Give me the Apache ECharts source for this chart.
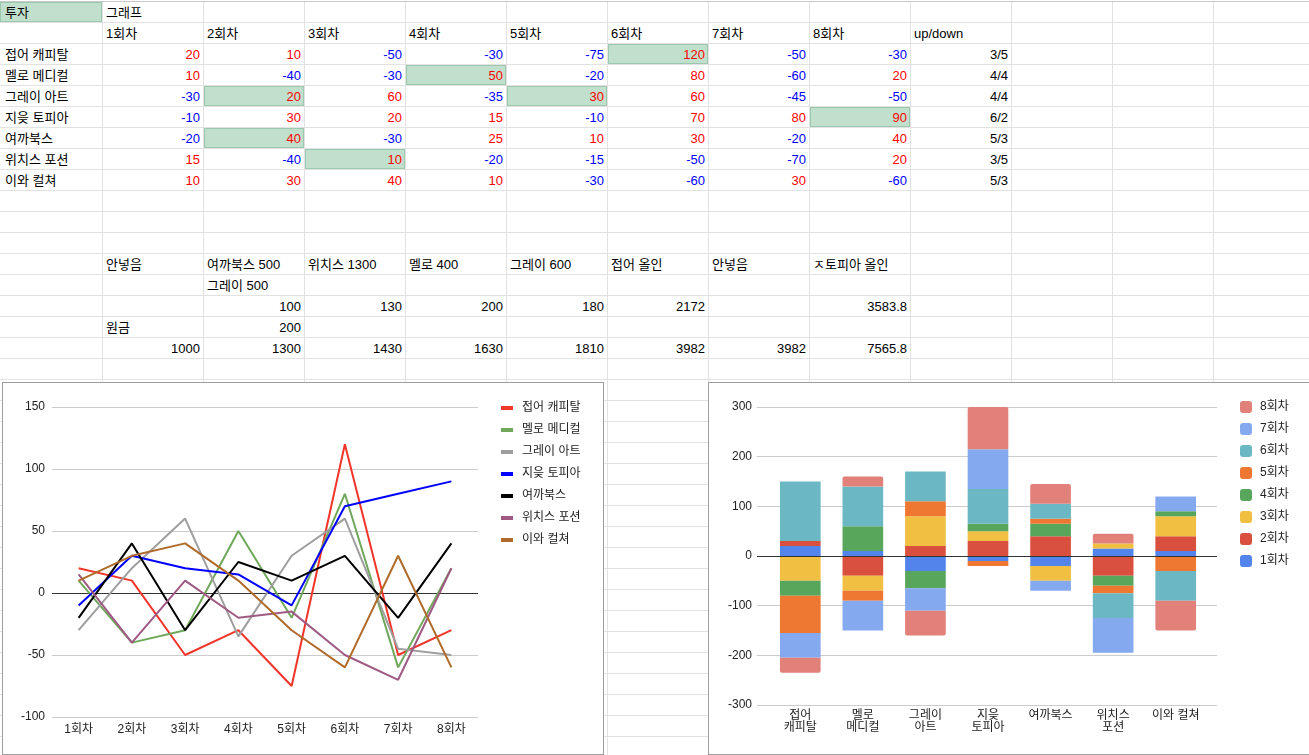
<!DOCTYPE html>
<html><head><meta charset="utf-8">
<script src="https://cdn.jsdelivr.net/npm/echarts@6/dist/echarts.min.js"></script>
<style>
html,body{margin:0;padding:0;background:#fff;width:1309px;height:755px;overflow:hidden;
font-family:Arial,'Liberation Sans','Noto Sans CJK KR',sans-serif;}
#sheet{position:absolute;left:0;top:0;width:1309px;height:755px;}
.cell{position:absolute;box-sizing:border-box;border-right:1px solid #e2e2e2;border-bottom:1px solid #e2e2e2;
font-size:13px;line-height:21px;padding:0 3px;white-space:nowrap;overflow:visible;color:#000;}
.c0{padding-left:5px;}
.r{text-align:right;}
.hl{background:#c0e0cd;box-shadow:inset 0 0 0 1px #9cc9ad;}
.chartbox{position:absolute;box-sizing:border-box;border:1px solid #9e9e9e;background:#fff;}
</style></head>
<body>
<div id="sheet"></div>
<div id="lineBox" class="chartbox" style="left:2px;top:382px;width:602px;height:373px;"></div>
<div id="barBox" class="chartbox" style="left:708px;top:382px;width:610px;height:373px;"></div>
<script>
// ---------- data ----------
const rounds = ['1회차','2회차','3회차','4회차','5회차','6회차','7회차','8회차'];
const companies = ['접어 캐피탈','멜로 메디컬','그레이 아트','지읒 토피아','여까북스','위치스 포션','이와 컬쳐'];
const barTickLabels = ['접어\n캐피탈','멜로\n메디컬','그레이\n아트','지읒\n토피아','여까북스','위치스\n포션','이와 컬쳐'];
const jeobeo  = [20, 10, -50, -30, -75, 120, -50, -30];
const mello   = [10, -40, -30, 50, -20, 80, -60, 20];
const gray    = [-30, 20, 60, -35, 30, 60, -45, -50];
const jieut   = [-10, 30, 20, 15, -10, 70, 80, 90];
const yeokka  = [-20, 40, -30, 25, 10, 30, -20, 40];
const witches = [15, -40, 10, -20, -15, -50, -70, 20];
const iwa     = [10, 30, 40, 10, -30, -60, 30, -60];
const upDown  = ['3/5','4/4','4/4','6/2','5/3','3/5','5/3'];
const lineYTicks = [-100, -50, 0, 50, 100, 150];
const barYTicks = [-300, -200, -100, 0, 100, 200, 300];
// lower block of the sheet
const planRow   = ['안넣음','여까북스 500','위치스 1300','멜로 400','그레이 600','접어 올인','안넣음','ㅈ토피아 올인'];
const planRow2  = ['', '그레이 500'];
const gainRow   = ['', '100','130','200','180','2172','','3583.8'];
const principalRow = ['원금','200'];
const totalRow  = ['1000','1300','1430','1630','1810','3982','3982','7565.8'];

const companyValues = [jeobeo, mello, gray, jieut, yeokka, witches, iwa];
const lineColors = ['#f0352a','#6fa85a','#9e9e9e','#0000ff','#000000','#9f5a83','#b06b2a'];
const barColors = ['#5384ec','#d9503f','#f1bf42','#58a65c','#ee7731','#6bb8c4','#85a9ef','#e2807a'];
const highlighted = {'0-5':1,'1-3':1,'2-1':1,'2-4':1,'3-7':1,'4-1':1,'5-2':1};

// ---------- spreadsheet ----------
const sheetEl = document.getElementById('sheet');
const NR = 36, NC = 13, CW = 101, RH = 21;
const cells = [];
for (let r = 0; r < NR; r++) { cells.push(new Array(NC).fill(null)); }
function put(r, c, text, opts) { cells[r][c] = Object.assign({text: text}, opts || {}); }
put(0,0,'투자',{hl:true}); put(0,1,'그래프');
rounds.forEach((t,i)=>put(1,i+1,t)); put(1,9,'up/down');
companies.forEach((name, i) => {
  put(i+2, 0, name);
  companyValues[i].forEach((v, j) => {
    put(i+2, j+1, String(v), {right:true, color: v >= 0 ? '#ff0000' : '#0000ff', hl: !!highlighted[i+'-'+j]});
  });
  put(i+2, 9, upDown[i], {right:true});
});
planRow.forEach((t,i)=>{ if (t) put(12, i+1, t); });
planRow2.forEach((t,i)=>{ if (t) put(13, i+1, t); });
gainRow.forEach((t,i)=>{ if (t) put(14, i+1, t, {right:true}); });
put(15,1,principalRow[0]); put(15,2,principalRow[1],{right:true});
totalRow.forEach((t,i)=>put(16, i+1, t, {right:true}));

const topLine = document.createElement('div');
topLine.style.cssText = 'position:absolute;left:0;top:1px;width:1309px;height:1px;background:#c8c8c8;';
sheetEl.appendChild(topLine);
for (let r = 0; r < NR; r++) {
  for (let c = 0; c < NC; c++) {
    const d = document.createElement('div');
    d.className = 'cell' + (c === 0 ? ' c0' : '');
    const left = c === 0 ? 0 : 101 * c + 2;
    const w = c === 0 ? 103 : CW;
    d.style.left = left + 'px'; d.style.top = (RH * r + 2) + 'px';
    d.style.width = w + 'px'; d.style.height = RH + 'px';
    const g = cells[r][c];
    if (g) {
      d.textContent = g.text;
      if (g.right) d.classList.add('r');
      if (g.color) d.style.color = g.color;
      if (g.hl) d.classList.add('hl');
    }
    sheetEl.appendChild(d);
  }
}

// ---------- line chart ----------
const FONT = "Arial, 'Liberation Sans', 'Noto Sans CJK KR', sans-serif";
const lineChart = echarts.init(document.getElementById('lineBox'), null, {renderer:'canvas'});
lineChart.setOption({
  animation: false,
  textStyle: {fontFamily: FONT},
  grid: {left: 49, top: 24, width: 426, height: 310},
  legend: {
    left: 498, top: 19, padding: 0, orient: 'vertical', itemGap: 10, itemWidth: 12, itemHeight: 4,
    icon: 'rect', data: companies,
    textStyle: {fontSize: 12, color: '#222', fontFamily: FONT, padding: [0,0,0,4]}
  },
  xAxis: {
    type: 'category', data: rounds, boundaryGap: true,
    axisLine: {show: false}, axisTick: {show: false},
    axisLabel: {color: '#222', fontSize: 12, margin: 7, fontFamily: FONT}
  },
  yAxis: {
    type: 'value', min: lineYTicks[0], max: lineYTicks[lineYTicks.length-1], interval: 50,
    axisLine: {show: false}, axisTick: {show: false},
    axisLabel: {color: '#222', fontSize: 12, margin: 7, fontFamily: FONT},
    splitLine: {lineStyle: {color: '#cccccc', width: 1}}
  },
  series: companies.map((name, i) => ({
    name: name, type: 'line', data: companyValues[i], showSymbol: false, symbol: 'none',
    lineStyle: {width: 2, color: lineColors[i]}, itemStyle: {color: lineColors[i]},
    z: 3,
    markLine: i === 0 ? {
      silent: true, symbol: 'none', label: {show: false},
      lineStyle: {color: '#333', width: 1, type: 'solid'},
      data: [{yAxis: 0}], z: 1
    } : undefined
  }))
});

// ---------- stacked bar chart ----------
const barChart = echarts.init(document.getElementById('barBox'), null, {renderer:'canvas'});
const byRound = rounds.map((r, j) => companyValues.map(vals => vals[j]));
barChart.setOption({
  animation: false,
  textStyle: {fontFamily: FONT},
  grid: [
    {left: 48, top: 24, width: 460, height: 298},
    {left: 60, top: 24, width: 438, height: 298}
  ],
  legend: {
    left: 531, top: 18, padding: 0, orient: 'vertical', itemGap: 10, itemWidth: 12, itemHeight: 12,
    icon: 'roundRect', data: rounds.slice().reverse(),
    textStyle: {fontSize: 12, color: '#222', fontFamily: FONT, padding: [0,0,0,3]}
  },
  xAxis: [
    {gridIndex: 0, type: 'category', data: companies, show: false},
    {gridIndex: 1, type: 'category', data: companies, boundaryGap: true,
     axisLine: {show: false}, axisTick: {show: false},
     axisLabel: {color: '#222', fontSize: 12, margin: 5, lineHeight: 12, fontFamily: FONT,
       interval: 0, formatter: (v, idx) => barTickLabels[idx]}}
  ],
  yAxis: [
    {gridIndex: 0, type: 'value', min: barYTicks[0], max: barYTicks[barYTicks.length-1], interval: 100,
     axisLine: {show: false}, axisTick: {show: false},
     axisLabel: {color: '#222', fontSize: 12, margin: 5, fontFamily: FONT},
     splitLine: {lineStyle: {color: '#cccccc', width: 1}}},
    {gridIndex: 1, type: 'value', min: barYTicks[0], max: barYTicks[barYTicks.length-1], interval: 100,
     show: false, splitLine: {show: false}}
  ],
  series: [{
    type: 'line', xAxisIndex: 0, yAxisIndex: 0, data: [], silent: true,
    markLine: {silent: true, symbol: 'none', label: {show: false},
      lineStyle: {color: '#333', width: 1, type: 'solid'}, data: [{yAxis: 0}]}
  }].concat(rounds.map((r, j) => ({
    name: r, type: 'bar', stack: 'total', xAxisIndex: 1, yAxisIndex: 1,
    barCategoryGap: '35%',
    itemStyle: {color: barColors[j]},
    data: byRound[j].map(v => j === rounds.length - 1
      ? {value: v, itemStyle: {borderRadius: v >= 0 ? [2,2,0,0] : [0,0,2,2]}}
      : v),
    z: 2
  })))
});
</script>
</body></html>
